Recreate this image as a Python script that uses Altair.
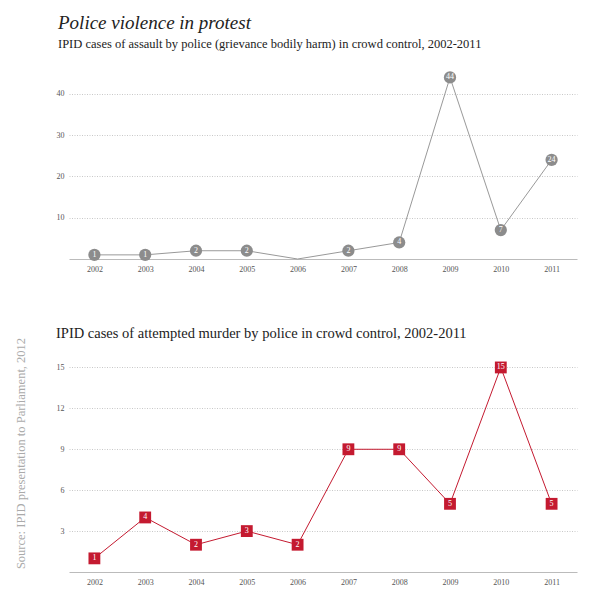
import altair as alt
import pandas as pd

years = ["2002", "2003", "2004", "2005", "2006", "2007", "2008", "2009", "2010", "2011"]
assault = [1, 1, 2, 2, 0, 2, 4, 44, 7, 24]
attempted_murder = [1, 4, 2, 3, 2, 9, 9, 5, 15, 5]

main_title = "Police violence in protest"
sub1 = "IPID cases of assault by police (grievance bodily harm) in crowd control, 2002-2011"
sub2 = "IPID cases of attempted murder by police in crowd control, 2002-2011"
source = "Source: IPID presentation to Parliament, 2012"

top_ticks = [10, 20, 30, 40]
bot_ticks = [3, 6, 9, 12, 15]

GRAY = "#8c8c8c"
RED = "#c41a30"
SERIF = "Liberation Serif"

df1 = pd.DataFrame({"year": years, "v": assault})
df2 = pd.DataFrame({"year": years, "v": attempted_murder})

W = 508

def xenc():
    return alt.X("year:O", title=None, sort=years,
                 scale=alt.Scale(type="point", padding=0.5),
                 axis=alt.Axis(labelAngle=0, ticks=False, domain=True,
                               domainColor="#bbbbbb", grid=False,
                               labelFont=SERIF, labelFontSize=8,
                               labelColor="#555555", labelPadding=6))

def yenc(dmax, ticks, title=None):
    extra = {}
    if title:
        extra = dict(titleFont=SERIF, titleFontSize=12.5,
                     titleFontWeight="normal", titleColor="#aaaaaa",
                     titleAngle=270, titleX=-49, titleY=106,
                     titleAlign="center", titleBaseline="middle")
    return alt.Y("v:Q", title=title, scale=alt.Scale(domain=[0, dmax], nice=False),
                 axis=alt.Axis(values=ticks, ticks=False, domain=False,
                               grid=True, gridColor="#c8c8c8", gridDash=[1, 1.5],
                               labelFont=SERIF, labelFontSize=8,
                               labelColor="#555555", labelPadding=5, **extra))

# top chart
H1 = 194
base1 = alt.Chart(df1)
line1 = base1.mark_line(color="#999999", strokeWidth=1).encode(x=xenc(), y=yenc(47, top_ticks))
pts1 = base1.mark_circle(color=GRAY, opacity=1, size=150).encode(
    x="year:O", y="v:Q").transform_filter("datum.v > 0")
txt1 = base1.mark_text(color="white", font=SERIF, fontSize=8).encode(
    x="year:O", y="v:Q", text="v:Q").transform_filter("datum.v > 0")
top = alt.layer(line1, pts1, txt1).properties(
    width=W, height=H1,
    title=alt.TitleParams(text=main_title, subtitle=sub1, anchor="start", frame="group",
                          dx=-11, font=SERIF, fontSize=19, fontStyle="italic",
                          fontWeight="normal", color="#222222", subtitleFont=SERIF,
                          subtitleFontSize=12.5, subtitleColor="#222222",
                          subtitlePadding=5, offset=15))

# bottom chart
H2 = 225
base2 = alt.Chart(df2)
line2 = base2.mark_line(color=RED, strokeWidth=1).encode(
    x=xenc(), y=yenc(16.5, bot_ticks, source))
pts2 = base2.mark_square(color=RED, opacity=1, size=140).encode(x="year:O", y="v:Q")
txt2 = base2.mark_text(color="white", font=SERIF, fontSize=8).encode(
    x="year:O", y="v:Q", text="v:Q")
bottom = alt.layer(line2, pts2, txt2).properties(
    width=W, height=H2,
    title=alt.TitleParams(text=sub2, anchor="start", frame="group", dx=-13, font=SERIF,
                          fontSize=14.5, fontWeight="normal", color="#222222", offset=-4))

chart = alt.vconcat(top, bottom, spacing=52).configure(
    background="white").configure_view(strokeWidth=0, stroke="transparent")

chart.save("out.html", embed_options={"renderer": "svg", "actions": False})
